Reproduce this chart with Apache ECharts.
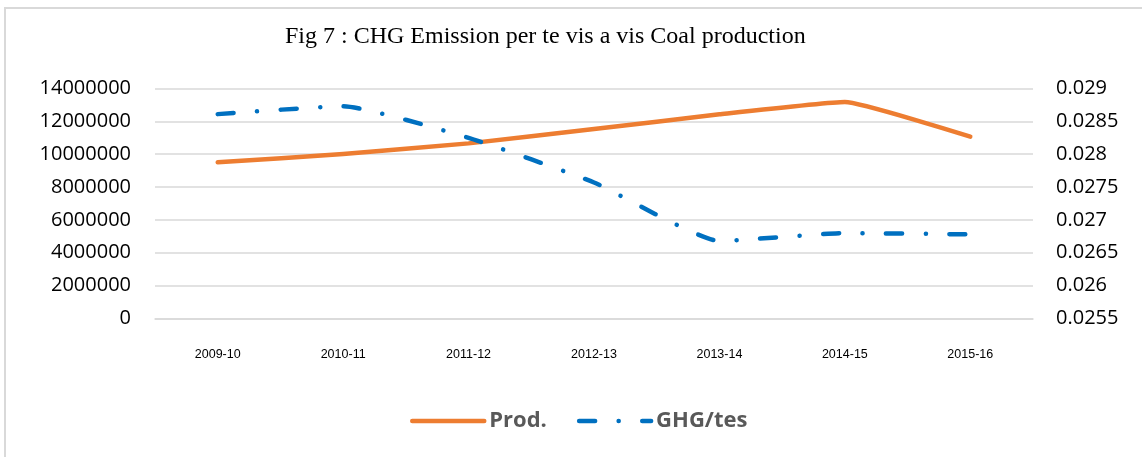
<!DOCTYPE html>
<html>
<head>
<meta charset="utf-8">
<script src="https://cdn.jsdelivr.net/npm/echarts@6/dist/echarts.min.js"></script>
<style>
  html, body { margin: 0; padding: 0; background: #fff; }
  .frame {
    position: absolute; left: 4px; top: 7px; width: 1200px; height: 500px;
    border-top: 2px solid #d9d9d9; border-left: 2px solid #d9d9d9;
  }
  #chart { position: absolute; left: 0; top: 0; width: 1142px; height: 457px; }
</style>
</head>
<body>
<div class="frame"></div>
<div id="chart"></div>
<script>
// data
const years = ["2009-10", "2010-11", "2011-12", "2012-13", "2013-14", "2014-15", "2015-16"];
const prod = [9510000, 10010000, 10660000, 11530000, 12430000, 13180000, 11070000];
const ghg = [0.02861, 0.02873, 0.02825, 0.02757, 0.02668, 0.0268, 0.02678];

const chart = echarts.init(document.getElementById("chart"));

const labelFont = { fontFamily: "Open Sans", fontSize: 20, color: "#000" };

const option = {
  animation: false,
  title: {
    text: "Fig 7 : CHG Emission per te vis a vis Coal production",
    left: 280,
    top: 20,
    textStyle: {
      fontFamily: "Liberation Serif",
      fontSize: 24,
      fontWeight: "normal",
      color: "#000",
    },
  },
  legend: {
    left: 410,
    top: 410,
    padding: 0,
    itemWidth: 72,
    itemHeight: 14,
    itemGap: 30,
    itemStyle: { opacity: 0 },
    lineStyle: { width: 4.5 },
    textStyle: {
      fontFamily: "Open Sans",
      fontSize: 22,
      fontWeight: "bold",
      color: "#595959",
    },
    data: ["Prod.", "GHG/tes"],
  },
  grid: {
    left: 155,
    right: 109,
    top: 88.5,
    bottom: 138.5,
  },
  xAxis: {
    type: "category",
    data: years,
    axisLine: { lineStyle: { color: "#d9d9d9", width: 1.5 } },
    axisTick: { show: false },
    axisLabel: {
      margin: 30,
      fontFamily: "Liberation Sans",
      fontSize: 12.5,
      color: "#000",
    },
  },
  yAxis: [
    {
      type: "value",
      min: 0,
      max: 14000000,
      interval: 2000000,
      axisLabel: Object.assign({ margin: 24, formatter: (v) => String(v) }, labelFont),
      splitLine: { lineStyle: { color: "#d9d9d9", width: 1.5 } },
    },
    {
      type: "value",
      min: 0.0255,
      max: 0.029,
      interval: 0.0005,
      axisLabel: Object.assign({ margin: 23, formatter: (v) => String(+v.toFixed(4)) }, labelFont),
      splitLine: { show: false },
    },
  ],
  series: [
    {
      name: "Prod.",
      type: "line",
      yAxisIndex: 0,
      data: prod,
      smooth: 0.12,
      symbol: "none",
      color: "#ED7D31",
      lineStyle: { width: 4.5, color: "#ED7D31", cap: "round", join: "round" },
    },
    {
      name: "GHG/tes",
      type: "line",
      yAxisIndex: 1,
      data: ghg,
      smooth: 0.15,
      symbol: "none",
      color: "#0070C0",
      lineStyle: {
        width: 4.5,
        color: "#0070C0",
        type: [16, 23.5, 0.1, 23.5],
        cap: "round",
        join: "round",
      },
    },
  ],
};

chart.setOption(option);
</script>
</body>
</html>
